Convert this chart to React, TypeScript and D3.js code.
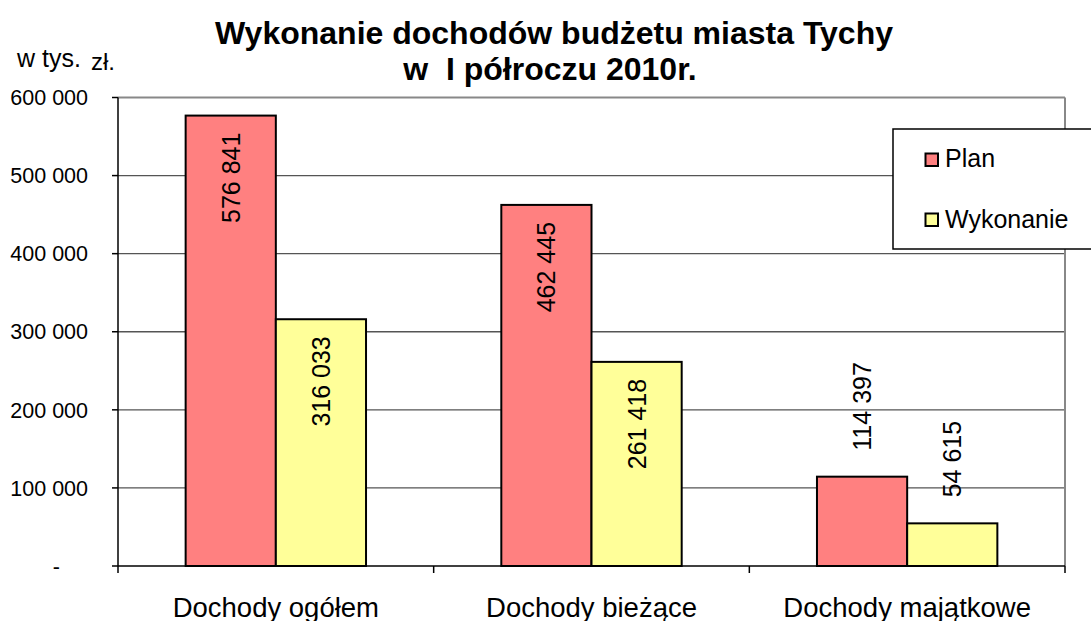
import React from "react";
import * as d3 from "d3";

const categories = ["Dochody ogółem", "Dochody bieżące", "Dochody majątkowe"];
const seriesNames = ["Plan", "Wykonanie"];
const planValues = [576841, 462445, 114397];
const wykonanieValues = [316033, 261418, 54615];
const yTicks = [0, 100000, 200000, 300000, 400000, 500000, 600000];
const seriesColors = ["#FF8080", "#FFFF99"];

const W = 1091;
const H = 621;
const FONT = "'Liberation Sans', Arial, sans-serif";

const fmt = (v: number) => (v === 0 ? "-" : d3.format(",")(v).replace(/,/g, " "));

export default function App() {
  const x0 = d3.scaleBand<string>().domain(categories).range([118, 1065]).padding(0);
  const x1 = d3
    .scaleBand<string>()
    .domain(seriesNames)
    .range([0, x0.bandwidth()])
    .paddingInner(0)
    .paddingOuter(0.75);
  const y = d3.scaleLinear().domain([0, 600000]).range([566, 97.5]);
  const values = [planValues, wykonanieValues];

  const labelFont = 25;
  const approxTextLen = (s: string) => s.length * 0.53 * labelFont;

  return (
    <svg
      width={W}
      height={H}
      style={{ position: "fixed", left: 0, top: 0, background: "#fff" }}
      fontFamily={FONT}
    >
      <rect x={0} y={0} width={W} height={H} fill="#fff" />
      {/* title */}
      <text x={554} y={44} textAnchor="middle" fontSize={32} fontWeight="bold" fill="#000">
        Wykonanie dochodów budżetu miasta Tychy
      </text>
      <text x={550} y={80} textAnchor="middle" fontSize={32} fontWeight="bold" fill="#000" style={{ whiteSpace: "pre" }}>
        {"w  I półroczu 2010r."}
      </text>
      {/* unit */}
      <text x={17} y={67} fontSize={25} fill="#000">w tys.</text>
      <text x={91} y={70} fontSize={24} fill="#000">zł.</text>

      {/* gridlines */}
      {yTicks.slice(1, -1).map((t) => (
        <line key={t} x1={118} x2={1065} y1={y(t)} y2={y(t)} stroke="#555" strokeWidth={1.3} />
      ))}
      {/* plot border top/right */}
      <line x1={118} x2={1065} y1={y(600000)} y2={y(600000)} stroke="#888" strokeWidth={2} />
      <line x1={1065} x2={1065} y1={y(600000)} y2={566} stroke="#888" strokeWidth={2} />

      {/* y axis */}
      <line x1={118} x2={118} y1={y(600000)} y2={566} stroke="#000" strokeWidth={1.5} />
      {yTicks.map((t) => (
        <g key={t}>
          <line x1={112} x2={118} y1={y(t)} y2={y(t)} stroke="#000" strokeWidth={1.5} />
          <text
            x={t === 0 ? 60 : 88}
            y={y(t)}
            dy="0.36em"
            textAnchor="end"
            fontSize={21.5}
            fill="#000"
          >
            {fmt(t)}
          </text>
        </g>
      ))}

      {/* bars */}
      {categories.map((c, ci) =>
        seriesNames.map((s, si) => {
          const v = values[si][ci];
          const bx = (x0(c) as number) + (x1(s) as number);
          const bw = x1.bandwidth();
          const top = y(v);
          return (
            <rect
              key={c + s}
              x={bx}
              y={top}
              width={bw}
              height={566 - top}
              fill={seriesColors[si]}
              stroke="#000"
              strokeWidth={2}
            />
          );
        })
      )}

      {/* x axis */}
      <line x1={118} x2={1065} y1={566} y2={566} stroke="#000" strokeWidth={1.5} />
      {[...categories.map((c) => x0(c) as number), 1065].map((xv, i) => (
        <line key={i} x1={xv} x2={xv} y1={566} y2={573} stroke="#000" strokeWidth={1.5} />
      ))}
      {categories.map((c) => (
        <text
          key={c}
          x={(x0(c) as number) + x0.bandwidth() / 2}
          y={617}
          textAnchor="middle"
          fontSize={27.5}
          fill="#000"
        >
          {c}
        </text>
      ))}

      {/* data labels */}
      {categories.map((c, ci) =>
        seriesNames.map((s, si) => {
          const v = values[si][ci];
          const cx = (x0(c) as number) + (x1(s) as number) + x1.bandwidth() / 2;
          const top = y(v);
          const label = fmt(v);
          const len = approxTextLen(label);
          const inside = 566 - top > len + 40;
          const ty = inside ? top + 17 : top - 26;
          const anchor = inside ? "end" : "start";
          return (
            <text
              key={"l" + c + s}
              transform={`translate(${cx},${ty}) rotate(-90)`}
              textAnchor={anchor}
              dy="0.36em"
              fontSize={labelFont}
              fill="#000"
            >
              {label}
            </text>
          );
        })
      )}

      {/* legend */}
      <rect x={893} y={129} width={210} height={120} fill="#fff" stroke="#000" strokeWidth={1.5} />
      {seriesNames.map((s, i) => (
        <g key={s}>
          <rect
            x={925.5}
            y={i === 0 ? 153.5 : 213.5}
            width={12.5}
            height={12.5}
            fill={seriesColors[i]}
            stroke="#000"
            strokeWidth={2}
          />
          <text x={945} y={i === 0 ? 167 : 228} fontSize={25} fill="#000">
            {s}
          </text>
        </g>
      ))}
    </svg>
  );
}
